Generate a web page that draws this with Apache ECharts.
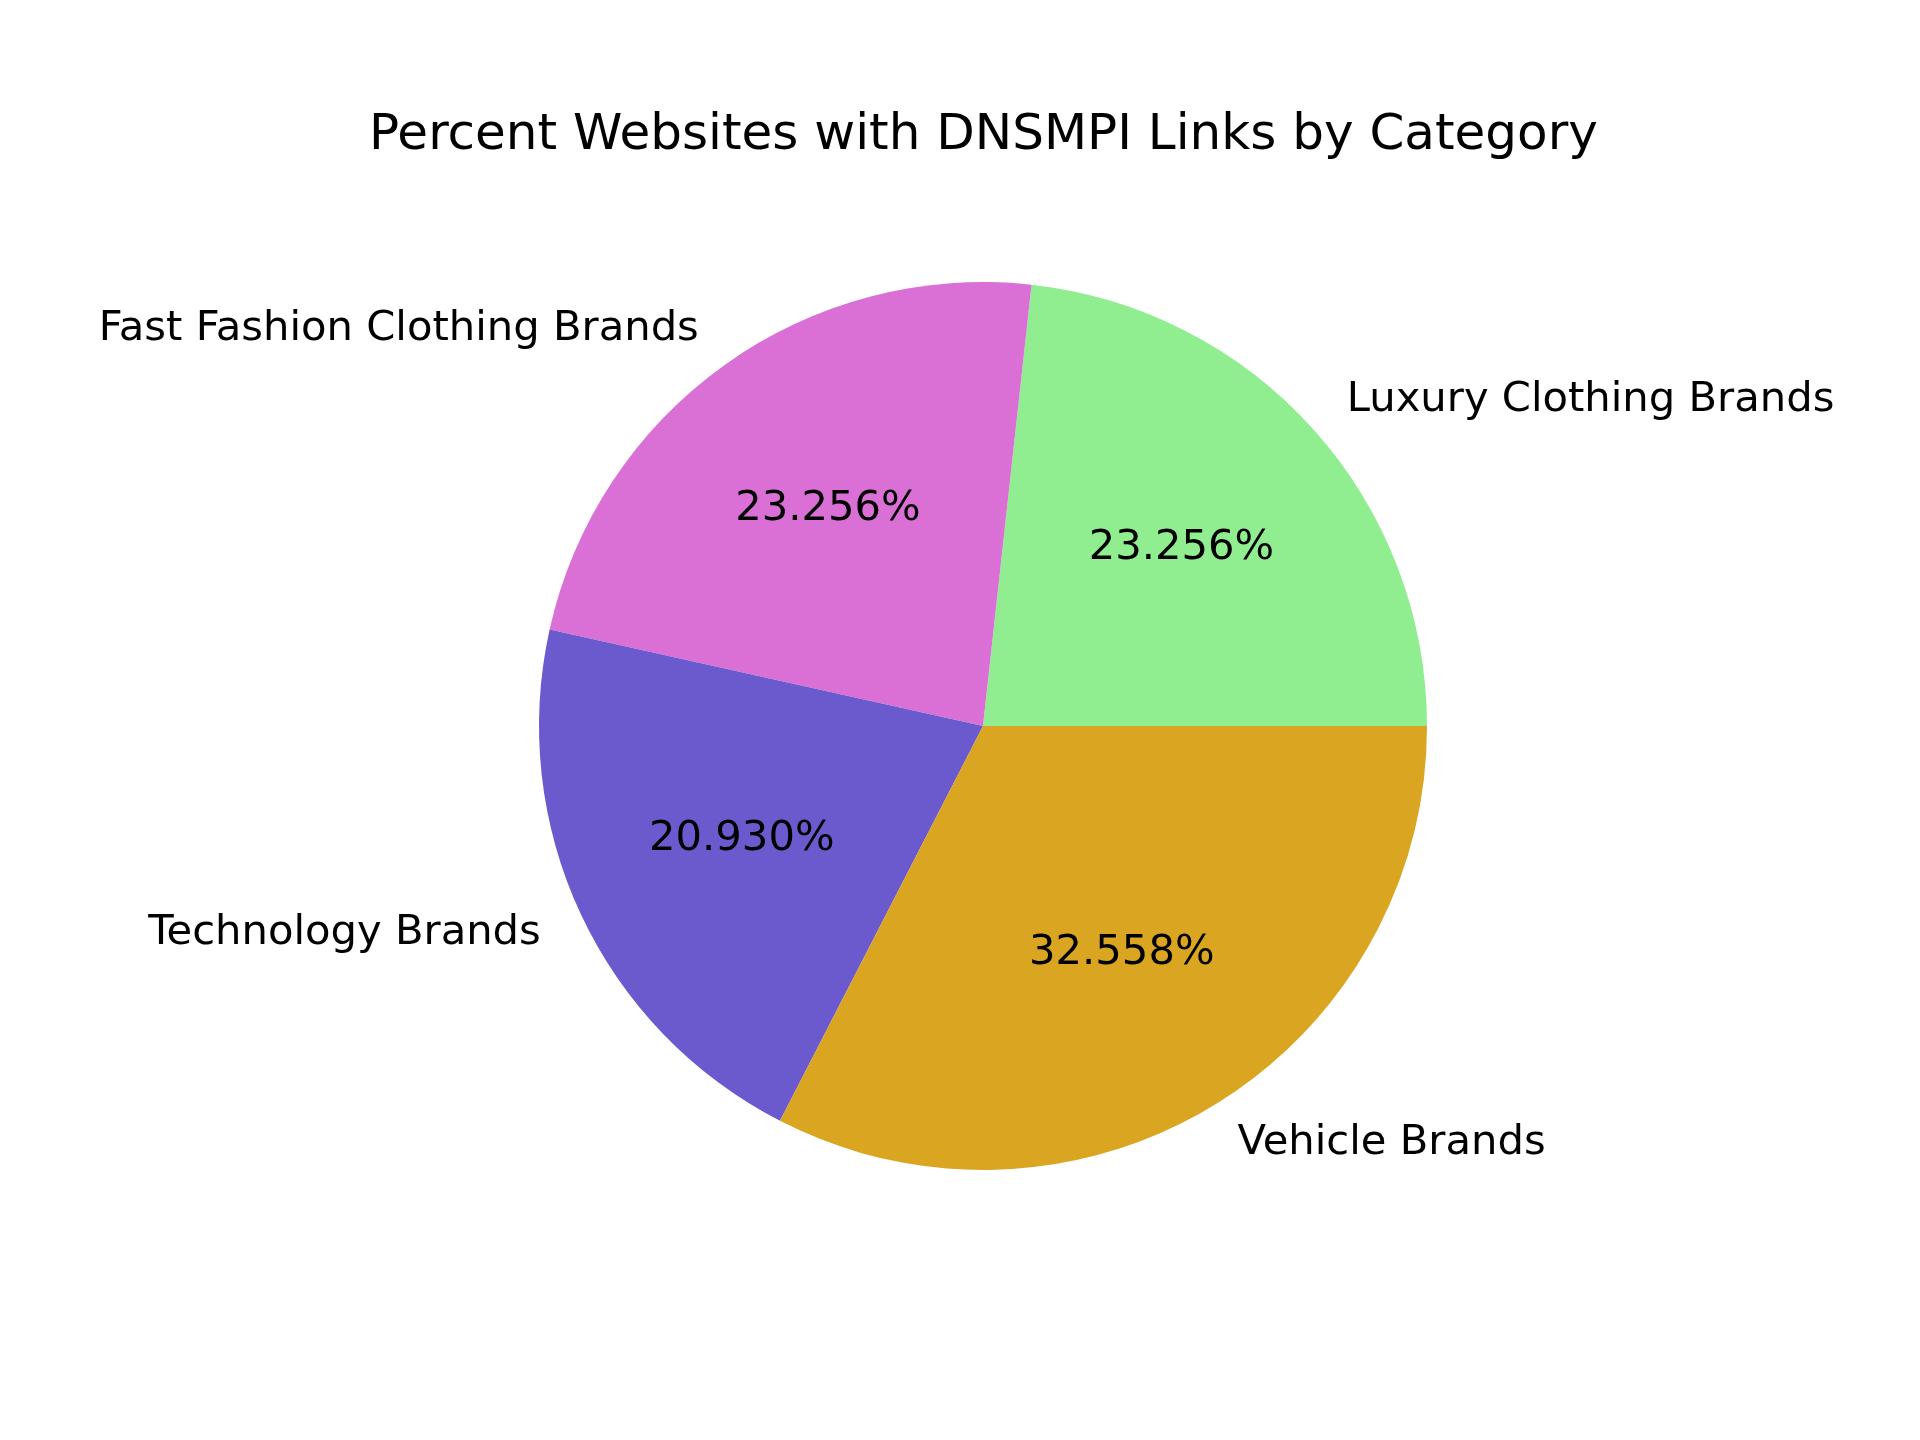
<!DOCTYPE html>
<html>
<head>
<meta charset="utf-8">
<script src="https://cdn.jsdelivr.net/npm/echarts@6/dist/echarts.min.js"></script>
<style>html,body{margin:0;padding:0;background:#fff}#c{width:1920px;height:1440px}</style>
</head>
<body>
<div id="c"></div>
<script>
const titleText = 'Percent Websites with DNSMPI Links by Category';
const categories = ['Luxury Clothing Brands', 'Fast Fashion Clothing Brands', 'Technology Brands', 'Vehicle Brands'];
const values = [10, 10, 9, 14];
const colors = ['#90EE90', '#DA70D6', '#6A5ACD', '#DAA520'];

const total = values.reduce((a, b) => a + b, 0);
const R = 444;
const CX = 983, CY = 726;
const FONT = 'DejaVu Sans';
const TITLE_SIZE = 50;

// measure title width so it can be centred over the pie (as matplotlib does)
const mctx = document.createElement('canvas').getContext('2d');
mctx.font = TITLE_SIZE + 'px "' + FONT + '"';
const titleW = mctx.measureText(titleText).width;

const data = categories.map((name, i) => ({ name, value: values[i], itemStyle: { color: colors[i] } }));

const chart = echarts.init(document.getElementById('c'), null, { renderer: 'canvas' });
chart.setOption({
  backgroundColor: '#ffffff',
  animation: false,
  title: {
    text: titleText,
    left: Math.round(CX - titleW / 2 - 5),
    top: 106,
    textStyle: { fontFamily: FONT, fontSize: TITLE_SIZE, fontWeight: 'normal', color: '#000' }
  },
  series: [
    {
      type: 'pie',
      center: [CX, CY],
      radius: [0, R],
      startAngle: 0,
      clockwise: false,
      avoidLabelOverlap: false,
      silent: true,
      itemStyle: { borderWidth: 0 },
      label: {
        show: true,
        position: 'outside',
        fontFamily: FONT,
        fontSize: 41.7,
        color: '#000',
        distanceToLabelLine: 0,
        formatter: p => p.name
      },
      labelLine: { show: false, length: R * 0.1, length2: 0 },
      data: data
    },
    {
      type: 'pie',
      center: [CX, CY],
      radius: [2 * (0.6 * R - 3) - R, R],
      startAngle: 0,
      clockwise: false,
      avoidLabelOverlap: false,
      silent: true,
      itemStyle: { color: 'rgba(0,0,0,0)', borderWidth: 0 },
      label: {
        show: true,
        position: 'inside',
        fontFamily: FONT,
        fontSize: 41.7,
        color: '#000',
        formatter: p => (p.value / total * 100).toFixed(3) + '%'
      },
      labelLine: { show: false },
      data: categories.map((name, i) => ({ name, value: values[i] }))
    }
  ]
});
</script>
</body>
</html>
